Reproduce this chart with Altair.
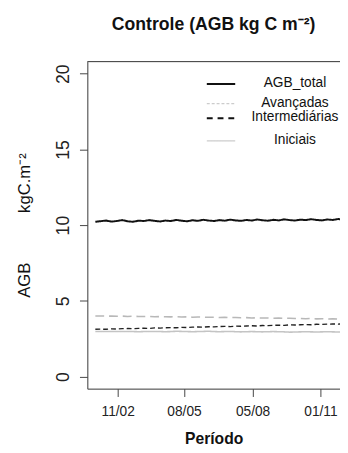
import altair as alt
import pandas as pd

# ---- data ----
start_day = 13           # first observation (day of year)
step_days = 7            # weekly records
agb_total = [10.22, 10.26, 10.30, 10.23, 10.27, 10.33, 10.25, 10.22, 10.29, 10.27,
             10.33, 10.28, 10.24, 10.30, 10.27, 10.34, 10.29, 10.25, 10.32, 10.28,
             10.35, 10.30, 10.27, 10.33, 10.29, 10.36, 10.31, 10.28, 10.34, 10.30,
             10.37, 10.32, 10.29, 10.35, 10.31, 10.38, 10.33, 10.30, 10.36, 10.33,
             10.39, 10.34, 10.31, 10.37, 10.34, 10.40, 10.36]
avancadas = [4.00, 4.00, 3.99, 3.99, 3.98, 3.99, 3.97, 3.98, 3.97, 3.96,
             3.97, 3.95, 3.96, 3.95, 3.94, 3.95, 3.93, 3.94, 3.92, 3.93,
             3.92, 3.91, 3.92, 3.90, 3.91, 3.89, 3.90, 3.88, 3.89, 3.87,
             3.88, 3.86, 3.87, 3.85, 3.86, 3.84, 3.85, 3.83, 3.84, 3.82,
             3.83, 3.81, 3.82, 3.80, 3.81, 3.79, 3.80]
intermediarias = [3.12, 3.13, 3.12, 3.15, 3.14, 3.16, 3.17, 3.16, 3.18, 3.19,
                  3.18, 3.21, 3.20, 3.22, 3.23, 3.22, 3.25, 3.24, 3.26, 3.27,
                  3.26, 3.29, 3.28, 3.30, 3.31, 3.30, 3.33, 3.32, 3.34, 3.35,
                  3.34, 3.37, 3.36, 3.38, 3.39, 3.38, 3.41, 3.40, 3.42, 3.43,
                  3.42, 3.45, 3.44, 3.46, 3.47, 3.46, 3.49]
iniciais = [2.98, 2.98, 2.97, 2.98, 2.97, 2.97, 2.98, 2.97, 2.96, 2.97,
            2.97, 2.98, 2.97, 2.96, 2.97, 2.99, 2.98, 2.97, 2.96, 2.97,
            2.98, 2.99, 2.97, 2.96, 2.97, 2.98, 2.96, 2.95, 2.96, 2.97,
            2.96, 2.95, 2.96, 2.97, 2.96, 2.95, 2.93, 2.94, 2.95, 2.96,
            2.95, 2.94, 2.95, 2.96, 2.95, 2.94, 2.95]

series_names = ["AGB_total", "Avançadas", "Intermediárias", "Iniciais"]
series_values = [agb_total, avancadas, intermediarias, iniciais]
series_colors = ["#111111", "#b8b8b8", "#222222", "#c4c4c4"]
series_dash = [[1, 0], [9, 5], [5, 3], [1, 0]]
series_width = [2.0, 1.6, 1.4, 1.6]

tick_days = [42, 128, 217, 305]
tick_labels = ["11/02", "08/05", "05/08", "01/11"]
y_ticks = [0, 5, 10, 15, 20]

# ---- build table ----
rows = []
for name, vals in zip(series_names, series_values):
    for i, v in enumerate(vals):
        rows.append({"dia": start_day + step_days * i, "valor": v, "serie": name})
df = pd.DataFrame(rows)

label_expr = ""
for d, lab in zip(tick_days, tick_labels):
    label_expr += f"datum.value == {d} ? '{lab}' : "
label_expr += "''"

W, H = 258, 334
FONT = "Liberation Sans"

x_scale = alt.Scale(domain=[2.6, 330.4], nice=False, zero=False)
y_scale = alt.Scale(domain=[-0.8, 20.8], nice=False, zero=False)

x_axis = alt.Axis(values=tick_days, labelExpr=label_expr, grid=False,
                  tickSize=8, labelPadding=8, labelFontSize=14, labelFont=FONT,
                  labelColor="#222", domainColor="#444", tickColor="#444",
                  title="Período", titleFont=FONT, titleFontSize=16,
                  titleFontWeight="bold", titleColor="#111",
                  titleBaseline="middle", titleY=51)
y_axis = alt.Axis(values=y_ticks, grid=False, tickSize=8, labelAngle=270,
                  labelAlign="center", labelBaseline="alphabetic", labelPadding=11,
                  labelFontSize=18, labelFont=FONT, labelColor="#222",
                  domainColor="#444", tickColor="#444",
                  title="AGB\u2003\u2003\u2003kgC.m\u207b\u00b2",
                  titleFont=FONT, titleFontSize=17, titleFontWeight="normal",
                  titleColor="#111", titleAngle=270, titleAlign="center",
                  titleBaseline="alphabetic", titleX=-59, titleY=167)

layers = []
for name, col, dash, wdt in zip(series_names, series_colors, series_dash, series_width):
    layers.append(
        alt.Chart(df[df["serie"] == name]).mark_line(
            color=col, strokeDash=dash, strokeWidth=wdt, clip=True, interpolate="linear"
        ).encode(
            x=alt.X("dia:Q", scale=x_scale, axis=x_axis),
            y=alt.Y("valor:Q", scale=y_scale, axis=y_axis),
        )
    )

# top border of the box
top_rule = alt.Chart(pd.DataFrame({"a": [0]})).mark_rule(color="#444", strokeWidth=1).encode(
    x=alt.value(0), x2=alt.value(W), y=alt.value(0)
)

# manual legend
leg_y = [23, 43, 58, 81]
leg_colors = ["#111111", "#cccccc", "#111111", "#cccccc"]
leg_dash = [[1, 0], [3, 2], [6, 5], [1, 0]]
leg_width = [2.0, 1.2, 2.0, 1.4]
leg_layers = []
for name, yy, col, dash, wdt in zip(series_names, leg_y, leg_colors, leg_dash, leg_width):
    ld = pd.DataFrame({"serie": [name]})
    leg_layers.append(
        alt.Chart(ld).mark_rule(color=col, strokeDash=dash, strokeWidth=wdt).encode(
            x=alt.value(122), x2=alt.value(151), y=alt.value(yy)
        )
    )
    leg_layers.append(
        alt.Chart(ld).mark_text(font=FONT, fontSize=14, color="#111", align="center",
                                baseline="middle").encode(
            x=alt.value(212), y=alt.value(yy - 1), text="serie:N"
        )
    )

chart = alt.layer(*layers, top_rule, *leg_layers).properties(
    width=W, height=H,
    title=alt.TitleParams("Controle (AGB kg C m\u207b\u00b2)", font=FONT, fontSize=18,
                          fontWeight="bold", color="#111", anchor="middle",
                          baseline="alphabetic", offset=14),
    padding={"left": 81, "top": 50, "right": 0, "bottom": 60},
    autosize=alt.AutoSizeParams(type="none"),
).configure_view(stroke=None).configure(background="white")

chart.save("out.html", embed_options={"renderer": "svg", "actions": False})
